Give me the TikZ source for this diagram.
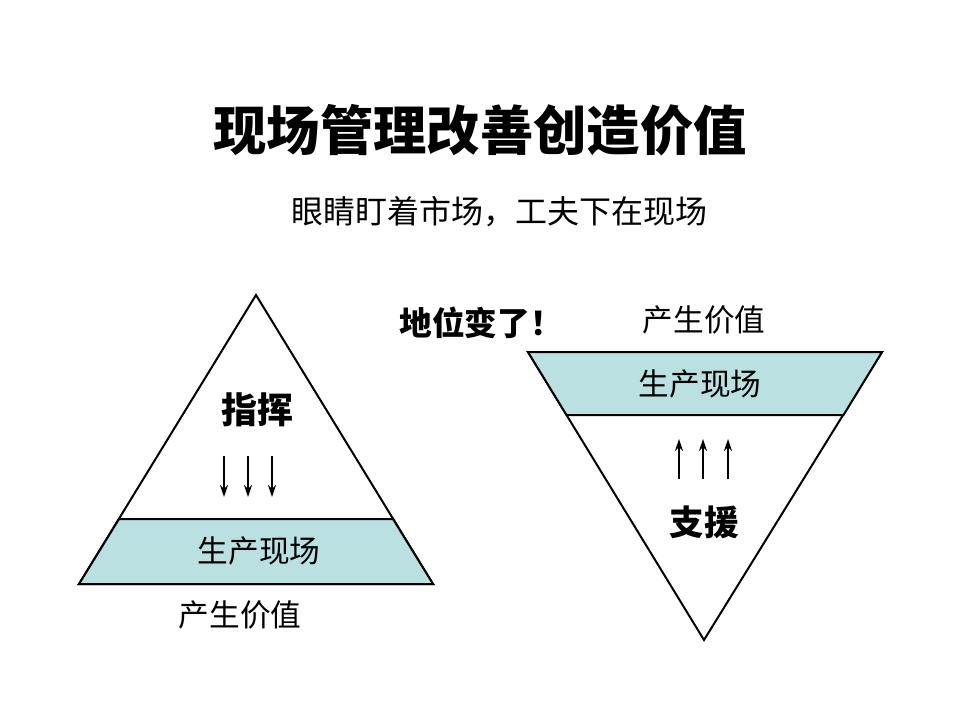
\documentclass[tikz,border=0pt]{standalone}
\usepackage{fontspec}
\setmainfont{Noto Sans CJK SC}
\usetikzlibrary{arrows.meta}
\definecolor{bandfill}{RGB}{187,224,226}
\tikzset{
  outl/.style={draw=black, line width=1.5pt, line join=miter},
  band/.style={outl, fill=bandfill},
  flowarrow/.style={-{Stealth[length=9pt,width=6pt]}, line width=1.3pt},
  lbl/.style={inner sep=0pt, anchor=center}
}
\begin{document}
\begin{tikzpicture}[x=0.75pt,y=-0.75pt]
\useasboundingbox (0,0) rectangle (960,720);
% titles
\node[lbl, font=\fontsize{40}{44}\selectfont\bfseries] (title) at (480,130) {现场管理改善创造价值};
\node[lbl, font=\fontsize{24}{28}\selectfont] (sub) at (499,212) {眼睛盯着市场，工夫下在现场};
% left triangle
\draw[outl, fill=white] (256,295) -- (433,584) -- (79,584) -- cycle;
\draw[band] (119,519) -- (393,519) -- (433,584) -- (79,584) -- cycle;
\node[lbl, font=\fontsize{27}{30}\selectfont\bfseries] (zhihui) at (257,410) {指挥};
\node[lbl, font=\fontsize{23}{26}\selectfont] (lband) at (259,551) {生产现场};
\node[lbl, font=\fontsize{23}{26}\selectfont] (lval) at (240,615) {产生价值};
\coordinate (la1s) at (224,456); \coordinate (la1e) at (224,497);
\coordinate (la2s) at (248,456); \coordinate (la2e) at (248,497);
\coordinate (la3s) at (272,456); \coordinate (la3e) at (272,497);
\draw[flowarrow] (la1s) -- (la1e);
\draw[flowarrow] (la2s) -- (la2e);
\draw[flowarrow] (la3s) -- (la3e);
% right inverted triangle
\node[lbl, font=\fontsize{24.5}{28}\selectfont\bfseries] (diwei) at (481,323) {地位变了！};
\node[lbl, font=\fontsize{23}{26}\selectfont] (rval) at (704,320) {产生价值};
\draw[outl, fill=white] (528,352) -- (882,352) -- (704,640) -- cycle;
\draw[band] (528,352) -- (882,352) -- (843.5,415) -- (566.5,415) -- cycle;
\node[lbl, font=\fontsize{23}{26}\selectfont] (rband) at (700,384) {生产现场};
\node[lbl, font=\fontsize{26}{30}\selectfont\bfseries] (zhiyuan) at (704,522) {支援};
\coordinate (ra1s) at (679,479); \coordinate (ra1e) at (679,439);
\coordinate (ra2s) at (703,479); \coordinate (ra2e) at (703,439);
\coordinate (ra3s) at (728,479); \coordinate (ra3e) at (728,439);
\draw[flowarrow] (ra1s) -- (ra1e);
\draw[flowarrow] (ra2s) -- (ra2e);
\draw[flowarrow] (ra3s) -- (ra3e);
\end{tikzpicture}
\end{document}
